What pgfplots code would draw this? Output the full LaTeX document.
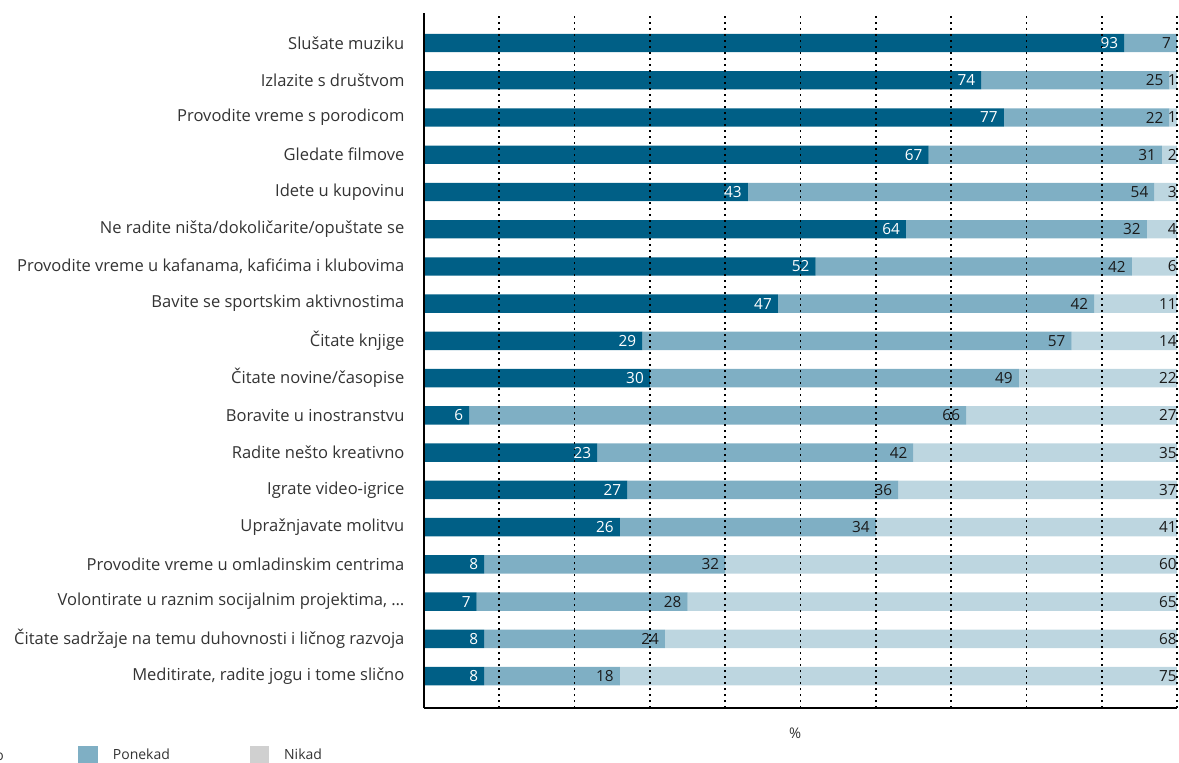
\documentclass[border=0pt]{standalone}
\usepackage{fontspec}
\setmainfont{Open Sans}
\usepackage{pgfplots}
\usepackage{pgfplotstable}
\pgfplotsset{compat=1.18}

\definecolor{often}{HTML}{005F86}
\definecolor{sometimes}{HTML}{7FAFC4}
\definecolor{never}{HTML}{BDD6E0}
\definecolor{neverlegend}{HTML}{D0D0D0}
\definecolor{labelgray}{HTML}{333333}
\definecolor{valgray}{HTML}{1A1A1A}

% idx: position from bottom; rest = light bar up to 100 %, neverlab = printed value
\pgfplotstableread{
idx often sometimes rest neverlab
17 93 7 0 {}
16 74 25 1 1
15 77 22 1 1
14 67 31 2 2
13 43 54 3 3
12 64 32 4 4
11 52 42 6 6
10 47 42 11 11
9 29 57 14 14
8 30 49 21 22
7 6 66 28 27
6 23 42 35 35
5 27 36 37 37
4 26 34 40 41
3 8 32 60 60
2 7 28 65 65
1 8 24 68 68
0 8 18 74 75
}\data

\begin{document}
\begin{tikzpicture}
\begin{axis}[
    at={(318pt,-9.75pt)}, anchor=north west,
    scale only axis,
    width=564.75pt, height=521.25pt,
    xbar stacked,
    bar width=13.8pt,
    xmin=0, xmax=100,
    ymin=-0.857, ymax=17.806,
    ytick={0,...,17},
    yticklabels={
        {Meditirate, radite jogu i tome slično},
        {Čitate sadržaje na temu duhovnosti i ličnog razvoja},
        {Volontirate u raznim socijalnim projektima, …},
        {Provodite vreme u omladinskim centrima},
        {Upražnjavate molitvu},
        {Igrate video-igrice},
        {Radite nešto kreativno},
        {Boravite u inostranstvu},
        {Čitate novine/časopise},
        {Čitate knjige},
        {Bavite se sportskim aktivnostima},
        {Provodite vreme u kafanama, kafićima i klubovima},
        {Ne radite ništa/dokoličarite/opuštate se},
        {Idete u kupovinu},
        {Gledate filmove},
        {Provodite vreme s porodicom},
        {Izlazite s društvom},
        {Slušate muziku}},
    xtick={10,20,...,100},
    xticklabels={},
    xmajorgrids,
    major x grid style={black, line width=1.2pt, dash pattern=on 1.2pt off 3.3pt},
    major tick length=0pt,
    axis x line*=bottom,
    axis y line*=left,
    axis line style={-, black, line width=1.5pt},
    axis on top,
    yticklabel style={font=\fontsize{12.4}{14}\selectfont, text=labelgray, inner sep=0pt, xshift=-14.5pt},
    xlabel={\%},
    xlabel style={at={(axis description cs:0.493,-0.036)}, anchor=center,
        font=\fontsize{11}{13}\selectfont, text=labelgray},
    point meta=explicit symbolic,
    % labels sit right-aligned at the end of each segment
    visualization depends on={rawx \as \segw},
    nodes near coords={\llap{\pgfplotspointmeta}},
    every node near coord/.append style={inner sep=0pt,
        xshift={\segw*2.82375pt-4.6pt},
        font=\fontsize{11.5}{13}\selectfont, text=valgray},
    legend columns=3,
    legend image code/.code={\fill[#1] (0pt,-7.1pt) rectangle (14.4pt,7.1pt);},
    legend style={at={(axis description cs:-0.1355,-0.0683)}, anchor=east,
        draw=none, fill=none, inner sep=0pt, outer sep=0pt,
        font=\fontsize{10.5}{12}\selectfont, text=labelgray,
        nodes={inner sep=0pt},
        /tikz/every odd column/.style={column sep=11.5pt},
        /tikz/column 2/.style={column sep=56pt},
        /tikz/column 4/.style={column sep=59.75pt}},
]
\addplot[forget plot, fill=often, draw=none,
    every node near coord/.append style={text=white}]
    table[x=often, y=idx, meta=often] {\data};
\addplot[forget plot, fill=sometimes, draw=none]
    table[x=sometimes, y=idx, meta=sometimes] {\data};
\addplot[forget plot, fill=never, draw=none,
    every node near coord/.append style={xshift=4.3pt}]
    table[x=rest, y=idx, meta=neverlab] {\data};

\addlegendimage{fill=often, draw=none}
\addlegendentry{Često}
\addlegendimage{fill=sometimes, draw=none}
\addlegendentry{Ponekad}
\addlegendimage{fill=neverlegend, draw=none}
\addlegendentry{Nikad}
\end{axis}
\pgfresetboundingbox
\useasboundingbox (0pt,0pt) rectangle (884.25pt,-572.25pt);
\end{tikzpicture}
\end{document}
